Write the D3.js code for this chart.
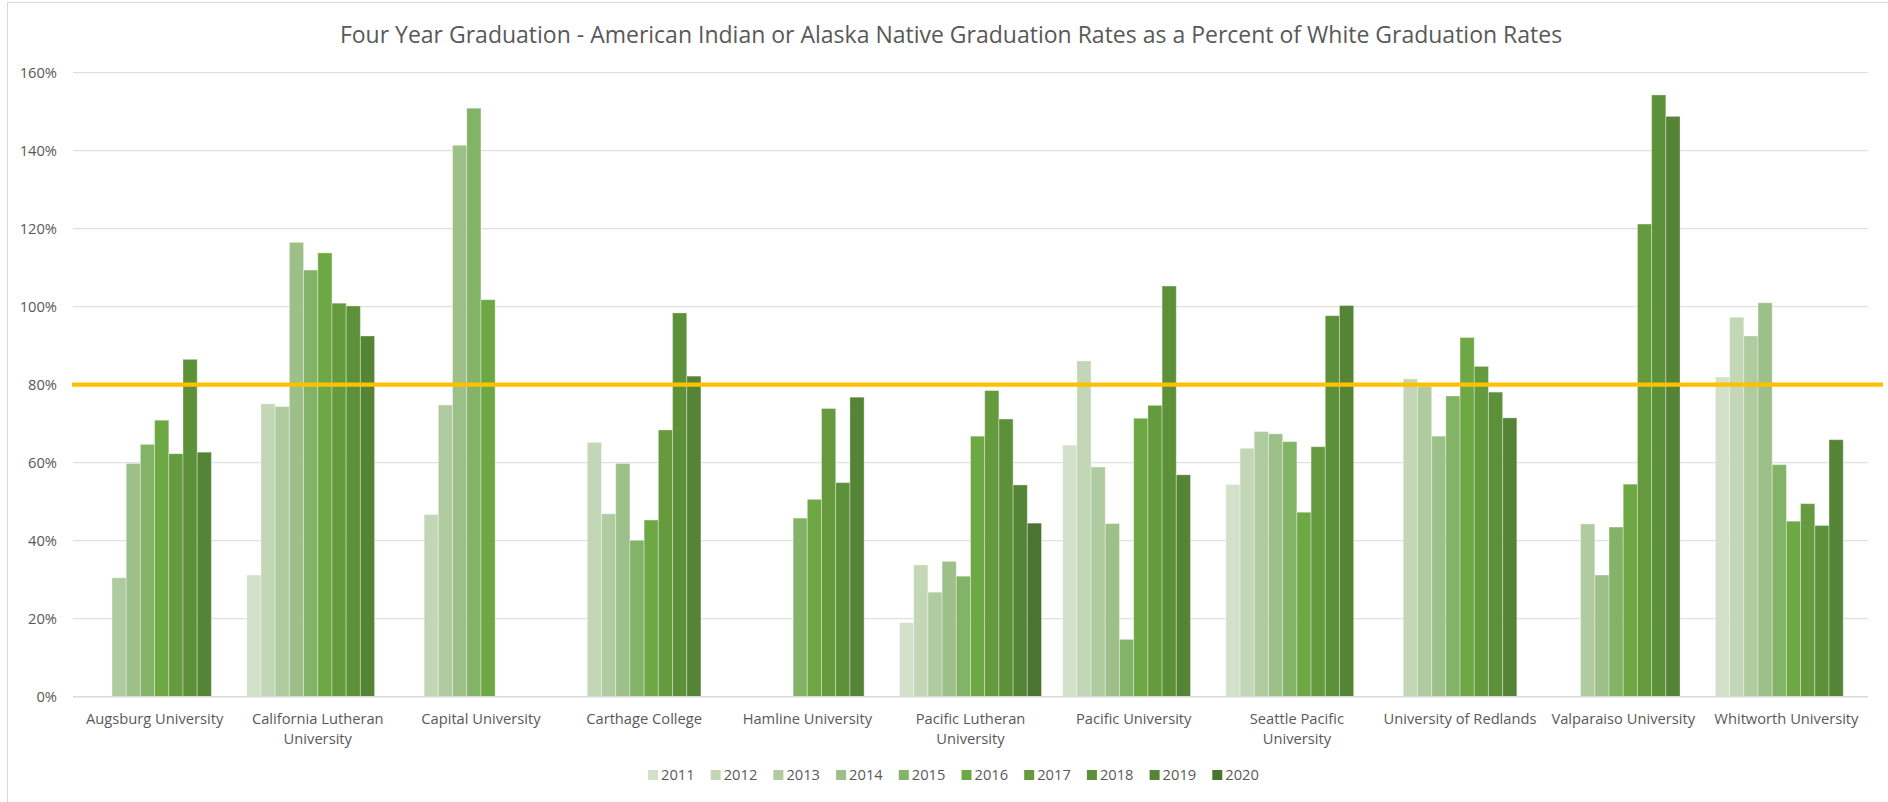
<!DOCTYPE html>
<html>
<head>
<meta charset="utf-8">
<script src="https://cdn.jsdelivr.net/npm/d3@7"></script>
<style>
  body { margin: 0; background: #fff; }
  svg text { font-family: "Open Sans", sans-serif; fill: #595959; }
</style>
</head>
<body>
<svg width="1888" height="802"></svg>
<script>
// categories and their wrapped axis labels
var schools = ["Augsburg University", "California Lutheran University", "Capital University",
  "Carthage College", "Hamline University", "Pacific Lutheran University", "Pacific University",
  "Seattle Pacific University", "University of Redlands", "Valparaiso University", "Whitworth University"];
var schoolLabels = [["Augsburg University"], ["California Lutheran", "University"], ["Capital University"],
  ["Carthage College"], ["Hamline University"], ["Pacific Lutheran", "University"], ["Pacific University"],
  ["Seattle Pacific", "University"], ["University of Redlands"], ["Valparaiso University"], ["Whitworth University"]];

var years = ["2011", "2012", "2013", "2014", "2015", "2016", "2017", "2018", "2019", "2020"];
var yearColors = ["#d3e1cb", "#c3d7b6", "#afcb9f", "#9dc089", "#83b366", "#6ea845", "#659a3f", "#5d9139", "#558437", "#4a7430"];

// percent values per school, one entry per year (null = no bar)
var augsburg   = [null, null, 30.5, 59.8, 64.7, 70.9, 62.3, 86.5, 62.7, null];
var calLutheran = [31.2, 75.1, 74.4, 116.5, 109.4, 113.8, 100.9, 100.2, 92.5, null];
var capital    = [null, 46.7, 74.8, 141.4, 150.9, 101.8, null, null, null, null];
var carthage   = [null, 65.2, 46.9, 59.8, 40.1, 45.3, 68.4, 98.4, 82.2, null];
var hamline    = [null, null, null, null, 45.8, 50.6, 73.9, 54.9, 76.8, null];
var pacLutheran = [19.0, 33.8, 26.8, 34.7, 30.9, 66.8, 78.5, 71.2, 54.3, 44.5];
var pacific    = [64.5, 86.1, 58.9, 44.4, 14.7, 71.4, 74.7, 105.3, 56.9, null];
var seattle    = [54.4, 63.7, 68.0, 67.4, 65.4, 47.3, 64.1, 97.7, 100.3, null];
var redlands   = [null, 81.5, 79.6, 66.8, 77.1, 92.1, 84.7, 78.1, 71.5, null];
var valparaiso = [null, null, 44.3, 31.2, 43.5, 54.5, 121.2, 154.3, 148.8, null];
var whitworth  = [82.0, 97.3, 92.5, 101.0, 59.5, 45.0, 49.5, 43.9, 65.9, null];

var target = 80;
var yTicks = [0, 20, 40, 60, 80, 100, 120, 140, 160];

var values = [augsburg, calLutheran, capital, carthage, hamline, pacLutheran, pacific, seattle, redlands, valparaiso, whitworth];

var svg = d3.select("svg");

// chart border
svg.append("rect").attr("x", 7.5).attr("y", 2.5).attr("width", 1900).attr("height", 820)
  .attr("fill", "#fff").attr("stroke", "#d9d9d9");

var plotLeft = 73, plotRight = 1868, plotTop = 72.7, plotBottom = 696.7;

var x = d3.scaleBand().domain(schools).range([plotLeft, plotRight]).paddingInner(0).paddingOuter(0);
var xs = d3.scaleBand().domain(years).range([0, x.bandwidth()]).paddingInner(0).paddingOuter(0.745);
var y = d3.scaleLinear().domain([0, 160]).range([plotBottom, plotTop]);

svg.append("text")
  .attr("x", 951).attr("y", 43)
  .attr("text-anchor", "middle")
  .style("font-size", "23px")
  .text("Four Year Graduation - American Indian or Alaska Native Graduation Rates as a Percent of White Graduation Rates");

// gridlines
svg.append("g").selectAll("line")
  .data(yTicks.slice(1))
  .enter().append("line")
  .attr("x1", plotLeft).attr("x2", plotRight)
  .attr("y1", d => y(d)).attr("y2", d => y(d))
  .attr("stroke", "#d9d9d9").attr("stroke-width", 1);

// y axis labels
svg.append("g").selectAll("text")
  .data(yTicks)
  .enter().append("text")
  .attr("x", 57).attr("y", d => y(d))
  .attr("dy", "0.35em")
  .attr("text-anchor", "end")
  .style("font-size", "14.7px")
  .text(d => d + "%");

// bars
var groups = svg.append("g").selectAll("g")
  .data(schools)
  .enter().append("g")
  .attr("transform", d => "translate(" + x(d) + ",0)");

groups.selectAll("rect")
  .data((d, i) => years.map((yr, j) => ({year: yr, idx: j, v: values[i][j]})).filter(e => e.v != null))
  .enter().append("rect")
  .attr("x", d => xs(d.year))
  .attr("width", xs.bandwidth())
  .attr("y", d => y(d.v))
  .attr("height", d => y(0) - y(d.v))
  .attr("fill", d => yearColors[d.idx])
  .attr("stroke", "rgba(255,255,255,0.35)")
  .attr("stroke-width", 1);

// baseline
svg.append("line")
  .attr("x1", plotLeft).attr("x2", plotRight)
  .attr("y1", y(0)).attr("y2", y(0))
  .attr("stroke", "#d9d9d9").attr("stroke-width", 1.5);

// 80% target line
svg.append("line")
  .attr("x1", 72).attr("x2", 1883)
  .attr("y1", y(target)).attr("y2", y(target))
  .attr("stroke", "#ffc000").attr("stroke-width", 4.3);

// category labels
var lab = svg.append("g").selectAll("text")
  .data(schools)
  .enter().append("text")
  .attr("text-anchor", "middle")
  .style("font-size", "14.7px")
  .attr("transform", d => "translate(" + (x(d) + x.bandwidth() / 2) + ",724)");
lab.selectAll("tspan")
  .data((d, i) => schoolLabels[i])
  .enter().append("tspan")
  .attr("x", 0)
  .attr("dy", (d, i) => i === 0 ? 0 : 19.5)
  .text(d => d);

// legend
var legend = svg.append("g").selectAll("g")
  .data(years)
  .enter().append("g")
  .attr("transform", (d, i) => "translate(" + (648 + i * 62.7) + ",775)");
legend.append("rect")
  .attr("x", 0).attr("y", -5).attr("width", 10).attr("height", 10)
  .attr("fill", (d, i) => yearColors[i]);
legend.append("text")
  .attr("x", 13).attr("dy", "0.35em")
  .style("font-size", "14.7px")
  .text(d => d);
</script>
</body>
</html>
